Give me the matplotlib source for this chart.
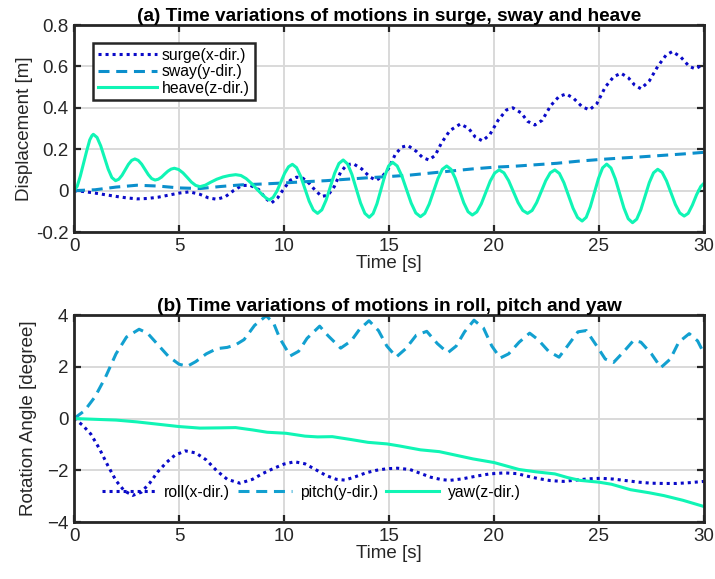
import matplotlib
matplotlib.use("Agg")
import matplotlib.pyplot as plt

plt.rcParams['font.family'] = ['Liberation Sans', 'DejaVu Sans']

# ---- (a) translational motions: time [s] / displacement [m] ----
surge_t = [0, 0.5, 1.0, 1.5, 2.0, 2.5, 3.0, 3.5, 4.0, 4.5, 5.0, 5.5, 6.0, 6.4, 6.8, 7.2, 7.6, 8.0,
           8.4, 8.8, 9.1, 9.4, 9.7, 10.0, 10.3, 10.6, 10.9, 11.2, 11.5, 11.8, 12.1, 12.4, 12.7, 13.0,
           13.3, 13.7, 14.1, 14.4, 14.7, 15.0, 15.3, 15.6, 15.9, 16.3, 16.6, 16.9, 17.2, 17.5, 17.9,
           18.4, 18.8, 19.1, 19.45, 19.8, 20.2, 20.6, 20.9, 21.3, 21.6, 21.95, 22.3, 22.7, 23.1,
           23.45, 23.8, 24.2, 24.55, 24.9, 25.3, 25.7, 26.05, 26.4, 26.7, 27.0, 27.4, 27.8, 28.2,
           28.5, 28.9, 29.3, 29.6, 30.0]
surge = [0, -0.005, -0.012, -0.02, -0.028, -0.035, -0.04, -0.038, -0.032, -0.022, -0.012, -0.006,
         -0.018, -0.035, -0.042, -0.03, 0.0, 0.025, 0.025, 0.005, -0.035, -0.06, -0.035, 0.01, 0.05,
         0.065, 0.06, 0.035, 0.0, -0.028, -0.022, 0.02, 0.09, 0.125, 0.13, 0.105, 0.065, 0.05, 0.07,
         0.11, 0.175, 0.21, 0.218, 0.19, 0.16, 0.148, 0.17, 0.23, 0.29, 0.322, 0.3, 0.26, 0.24, 0.27,
         0.34, 0.39, 0.4, 0.375, 0.335, 0.317, 0.34, 0.41, 0.455, 0.467, 0.445, 0.405, 0.39, 0.42,
         0.5, 0.55, 0.567, 0.545, 0.51, 0.492, 0.53, 0.6, 0.655, 0.672, 0.645, 0.6, 0.588, 0.612]

sway_t = list(range(0, 31))
sway = [0, 0.004, 0.017, 0.026, 0.022, 0.013, 0.01, 0.02, 0.028, 0.032, 0.037, 0.043, 0.048, 0.055,
        0.062, 0.068, 0.075, 0.085, 0.095, 0.105, 0.113, 0.118, 0.125, 0.132, 0.142, 0.15, 0.157,
        0.163, 0.17, 0.177, 0.185]

heave_t = [0, 0.15, 0.3, 0.45, 0.6, 0.75, 0.85,
           0.92, 1.097, 1.273, 1.45, 1.627, 1.803,
           1.98, 2.133, 2.287, 2.44, 2.593, 2.747,
           2.9, 3.06, 3.22, 3.38, 3.54, 3.70,
           3.86, 4.013, 4.167, 4.32, 4.473, 4.627,
           4.78, 4.983, 5.187, 5.39, 5.593, 5.797,
           6.0, 6.25, 6.5, 6.8, 7.1, 7.4, 7.7, 7.95, 8.2, 8.45, 8.7, 8.95, 9.15,
           9.3, 9.483, 9.667, 9.85, 10.033, 10.217,
           10.4, 10.6, 10.8, 11.0, 11.2, 11.4,
           11.6, 11.803, 12.007, 12.21, 12.413, 12.617,
           12.82, 13.027, 13.233, 13.44, 13.647, 13.853,
           14.06, 14.245, 14.43, 14.615, 14.80, 14.985,
           15.17, 15.392, 15.613, 15.835, 16.057, 16.278,
           16.5, 16.708, 16.917, 17.125, 17.333, 17.542,
           17.75, 17.953, 18.157, 18.36, 18.563, 18.767,
           18.97, 19.183, 19.397, 19.61, 19.823, 20.037,
           20.25, 20.475, 20.70, 20.925, 21.15, 21.375,
           21.6, 21.817, 22.033, 22.25, 22.467, 22.683,
           22.9, 23.117, 23.333, 23.55, 23.767, 23.983,
           24.2, 24.395, 24.59, 24.785, 24.98, 25.175,
           25.37, 25.575, 25.78, 25.985, 26.19, 26.395,
           26.6, 26.8, 27.0, 27.2, 27.4, 27.6,
           27.8, 28.01, 28.22, 28.43, 28.64, 28.85,
           29.06, 29.25, 29.45, 29.65, 29.85, 30.0]
heave = [0, 0.02, 0.07, 0.13, 0.19, 0.245, 0.265,
         0.272, 0.257, 0.216, 0.16, 0.104, 0.063,
         0.048, 0.055, 0.074, 0.10, 0.127, 0.146,
         0.153, 0.146, 0.128, 0.102, 0.077, 0.058,
         0.051, 0.055, 0.065, 0.080, 0.094, 0.104,
         0.108, 0.102, 0.086, 0.064, 0.041, 0.025,
         0.019, 0.026, 0.04, 0.055, 0.066, 0.073, 0.077, 0.073, 0.058, 0.035, 0.008, -0.018, -0.036,
         -0.045, -0.033, -0.002, 0.041, 0.084, 0.115,
         0.127, 0.111, 0.068, 0.009, -0.051, -0.094,
         -0.11, -0.093, -0.046, 0.019, 0.084, 0.131,
         0.148, 0.129, 0.079, 0.01, -0.06, -0.110,
         -0.129, -0.111, -0.063, 0.004, 0.071, 0.119,
         0.137, 0.119, 0.071, 0.006, -0.060, -0.108,
         -0.126, -0.110, -0.065, -0.004, 0.058, 0.103,
         0.119, 0.103, 0.060, 0.0, -0.059, -0.102,
         -0.118, -0.103, -0.064, -0.009, 0.046, 0.085,
         0.1, 0.086, 0.048, -0.005, -0.058, -0.096,
         -0.11, -0.096, -0.058, -0.005, 0.048, 0.086,
         0.1, 0.083, 0.038, -0.024, -0.085, -0.130,
         -0.147, -0.129, -0.078, -0.010, 0.059, 0.110,
         0.128, 0.109, 0.057, -0.014, -0.084, -0.136,
         -0.155, -0.138, -0.091, -0.026, 0.039, 0.086,
         0.103, 0.088, 0.047, -0.01, -0.067, -0.108,
         -0.123, -0.11, -0.07, -0.02, 0.02, 0.035]

# ---- (b) rotational motions: time [s] / angle [degree] ----
roll_t = [0, 0.4, 0.8, 1.2, 1.6, 2.0, 2.4, 2.8, 3.2, 3.6, 4.0, 4.4, 4.8, 5.3, 5.8, 6.3, 6.8, 7.3, 7.9,
          8.5, 9.0, 9.5, 10.0, 10.5, 11.0, 11.5, 12.0, 12.5, 12.9, 13.4, 13.9, 14.4, 14.9, 15.4, 16.0,
          16.5, 17.0, 17.5, 17.9, 18.5, 19.2, 19.8, 20.5, 21.1, 21.6, 22.1, 22.7, 23.3, 23.9, 24.5,
          25.1, 25.7, 26.3, 26.9, 27.5, 28.1, 28.7, 29.3, 30.0]
roll = [0, -0.25, -0.6, -1.15, -1.8, -2.4, -2.8, -2.97, -2.85, -2.5, -2.05, -1.7, -1.42, -1.25,
        -1.33, -1.6, -2.02, -2.35, -2.5, -2.35, -2.12, -1.93, -1.76, -1.67, -1.75, -1.97, -2.2, -2.35,
        -2.38, -2.25, -2.1, -2.0, -1.94, -1.92, -1.97, -2.12, -2.27, -2.36, -2.39, -2.33, -2.22,
        -2.14, -2.1, -2.13, -2.23, -2.32, -2.4, -2.43, -2.38, -2.33, -2.31, -2.34, -2.4, -2.46, -2.5,
        -2.51, -2.51, -2.48, -2.43]

pitch_t = [0, 0.5, 1.0, 1.5, 2.0, 2.5, 3.1, 3.5, 4.0, 4.5, 5.0, 5.4, 5.8, 6.3, 6.8, 7.3, 7.7, 8.1,
           8.6, 9.15, 9.5, 9.8, 10.3, 10.7, 11.1, 11.7, 12.1, 12.7, 13.2, 13.6, 14.05, 14.5, 14.9,
           15.35, 15.8, 16.3, 16.8, 17.3, 17.8, 18.2, 18.6, 19.05, 19.5, 19.9, 20.3, 20.7, 21.2, 21.7,
           22.1, 22.6, 23.1, 23.5, 24.0, 24.4, 24.9, 25.3, 25.7, 26.2, 26.65, 27.0, 27.5, 27.95, 28.4,
           28.8, 29.3, 29.7, 30.0]
pitch = [0, 0.3, 0.84, 1.6, 2.5, 3.15, 3.45, 3.3, 2.85, 2.4, 2.1, 2.02, 2.2, 2.5, 2.7, 2.75, 2.85,
         3.05, 3.6, 3.97, 3.7, 3.1, 2.42, 2.6, 3.1, 3.57, 3.2, 2.72, 3.0, 3.45, 3.78, 3.4, 2.8, 2.38,
         2.7, 3.22, 3.37, 2.9, 2.54, 2.8, 3.35, 3.8, 3.5, 2.8, 2.34, 2.5, 2.95, 3.3, 3.05, 2.6, 2.37,
         2.8, 3.35, 3.4, 2.8, 2.3, 2.17, 2.6, 3.02, 2.95, 2.5, 1.97, 2.3, 2.95, 3.28, 3.0, 2.52]

yaw_t = [0, 1, 2, 3, 4, 5, 6, 7, 7.7, 8.5, 9.2, 10.1, 11.0, 11.6, 12.3, 13.1, 14.0, 14.9, 15.5, 16.5,
         17.4, 18.2, 19.0, 20.0, 21.2, 22.0, 22.9, 23.5, 24.1, 25.0, 25.6, 26.5, 27.4, 28.1, 29.0, 30.0]
yaw = [0, -0.03, -0.06, -0.13, -0.22, -0.31, -0.37, -0.36, -0.35, -0.44, -0.53, -0.57, -0.68, -0.71,
       -0.7, -0.8, -0.92, -0.98, -1.06, -1.21, -1.28, -1.42, -1.56, -1.7, -1.97, -2.06, -2.14, -2.28,
       -2.39, -2.46, -2.54, -2.75, -2.87, -2.98, -3.16, -3.4]

c_x = '#0a0ac8'
c_y = '#0b8fcc'
c_z = '#10f5b5'
dot = (0, (1, 1.3))
dash = (0, (3.6, 2.2))
ink = '#262626'


def style_axes(ax):
    ax.set_xlim(0, 30)
    ax.set_xticks([0, 5, 10, 15, 20, 25, 30])
    ax.grid(True, color='#d9d9d9', linewidth=1.4)
    ax.set_axisbelow(True)
    ax.tick_params(direction='in', length=5, width=1.6, top=True, right=True,
                   labelsize=13.5, colors=ink, pad=4)
    for s in ax.spines.values():
        s.set_linewidth(2)
        s.set_color(ink)
    ax.set_xlabel('Time [s]', fontsize=13.5, color=ink, labelpad=0)


fig = plt.figure(figsize=(7.15, 5.79), dpi=100)
ax1 = fig.add_axes([0.1035, 0.5993, 0.881, 0.3575])
ax2 = fig.add_axes([0.1035, 0.0984, 0.881, 0.3575])

ax1.plot(surge_t, surge, color=c_x, lw=2.2, ls=dot, label='surge(x-dir.)')
ax1.plot(sway_t, sway, color=c_y, lw=2.2, ls=dash, label='sway(y-dir.)')
ax1.plot(heave_t, heave, color=c_z, lw=2.2, label='heave(z-dir.)')
style_axes(ax1)
ax1.set_ylim(-0.2, 0.8)
ax1.set_yticks([-0.2, 0, 0.2, 0.4, 0.6, 0.8])
ax1.set_yticklabels(['-0.2', '0', '0.2', '0.4', '0.6', '0.8'])
ax1.set_ylabel('Displacement [m]', fontsize=13.5, color=ink, labelpad=2)
ax1.set_title('(a) Time variations of motions in surge, sway and heave',
              fontsize=13.7, fontweight='bold', pad=3)
leg1 = ax1.legend(loc='upper left', bbox_to_anchor=(0.03, 0.914), fontsize=11.3,
                  handlelength=3.8, handletextpad=0.3, borderpad=0.3, labelspacing=0.1,
                  fancybox=False, framealpha=1, borderaxespad=0)
leg1.get_frame().set_edgecolor(ink)
leg1.get_frame().set_linewidth(1.8)

ax2.plot(roll_t, roll, color=c_x, lw=2.2, ls=dot, label='roll(x-dir.)')
ax2.plot(pitch_t, pitch, color='#12a0d0', lw=2.2, ls=dash, label='pitch(y-dir.)')
ax2.plot(yaw_t, yaw, color=c_z, lw=2.2, label='yaw(z-dir.)')
style_axes(ax2)
ax2.set_ylim(-4, 4)
ax2.set_yticks([-4, -2, 0, 2, 4])
ax2.set_ylabel('Rotation Angle [degree]', fontsize=13.5, color=ink, labelpad=7)
ax2.set_title('(b) Time variations of motions in roll, pitch and yaw',
              fontsize=13.7, fontweight='bold', pad=3)
ax2.legend(loc='center left', bbox_to_anchor=(0.035, 0.145), ncol=3, fontsize=11.3,
           handlelength=3.4, handletextpad=0.55, columnspacing=0.5, frameon=False,
           borderaxespad=0)

fig.savefig('out.png', dpi=100)
